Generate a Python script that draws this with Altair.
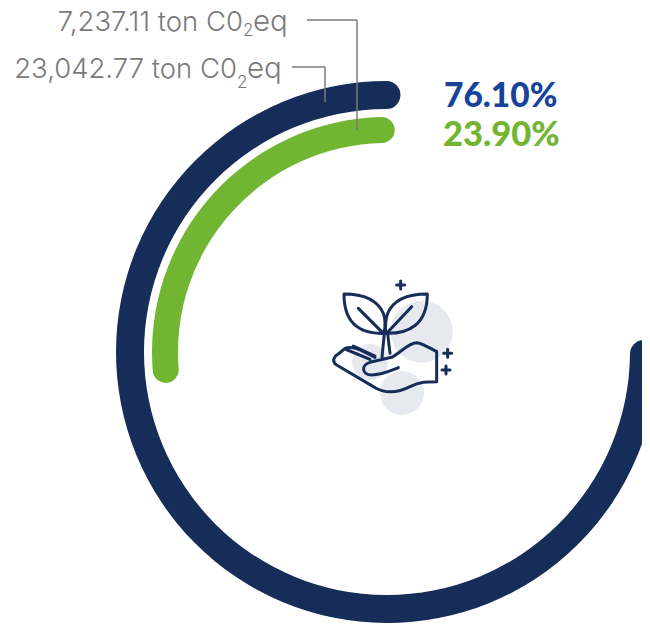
import math
import altair as alt
import pandas as pd

series = ["CO2 A", "CO2 B"]
shares = [76.10, 23.90]
tons = ["23,042.77", "7,237.11"]

NAVY, GREEN = "#162d5a", "#72b533"
BLUE = "#17449a"
GREY = "#7a7a7a"
LIGHT = "#e6e9ed"
OX, OY = 8, 8
W, H = 634, 617
FONT = "Inter"


def px(v):
    return alt.value(v - OX)


def py(v):
    return alt.value(v - OY)


def ring(i, color, inner, outer, start, end):
    df = pd.DataFrame({"s": [series[i]], "v": [shares[i]], "z": [0.0]})
    return alt.Chart(df).mark_arc(
        innerRadius=inner, outerRadius=outer, cornerRadius=(outer - inner) / 2, color=color
    ).encode(
        x=px(387), y=py(352),
        theta=alt.Theta("z:Q", scale=alt.Scale(domain=[0, shares[i]],
                                               range=[math.radians(start), math.radians(end)])),
        theta2=alt.Theta2("v:Q"),
    )


def label(txt, x, y, size, color, align="left", weight=300, font=FONT):
    df = pd.DataFrame({"t": [txt]})
    return alt.Chart(df).mark_text(
        font=font, fontSize=size, fontWeight=weight, color=color, align=align, baseline="alphabetic"
    ).encode(x=px(x), y=py(y), text="t:N")


def rule(x1, y1, x2, y2, color=GREY):
    df = pd.DataFrame({"k": [0]})
    return alt.Chart(df).mark_rule(color=color, strokeWidth=1.5).encode(
        x=px(x1), x2=px(x2), y=py(y1), y2=py(y2))


def circle(cx, cy, r):
    df = pd.DataFrame({"k": [0]})
    return alt.Chart(df).mark_point(filled=True, shape="circle", color=LIGHT, opacity=1,
                                    size=4 * r * r).encode(x=px(cx), y=py(cy))


# icon outline, in a 420x480 drawing grid anchored at page (320, 270), scale 1/3
ICON = [
    "M72 72 C120 72 170 85 190 130 C197 150 195 175 192 190 C130 192 72 170 72 72 Z",
    "M322 72 C270 72 222 85 203 130 C196 150 196 175 197 190 C265 192 322 165 322 72 Z",
    "M115 115 L190 190",
    "M275 110 L200 190",
    "M193 190 L186 262",
    "M203 190 L210 250",
    "M235 293 C205 305 185 315 155 315 C125 315 122 285 150 277 L215 262 C240 250 265 218 290 218 "
    "C310 220 330 235 350 245 L350 335 C320 335 300 335 270 350 C235 368 195 372 160 350 "
    "L50 285 C35 275 40 260 55 252 L75 235 C100 225 130 245 165 262",
    "M75 237 L150 268",
    "M100 228 L165 258",
    "M242 33 L242 57 M230 45 L254 45",
    "M383 238 L383 262 M371 250 L395 250",
    "M378 288 L378 312 M366 300 L390 300",
]
SPAN = 160.0  # page pixels covered by the -1..1 shape box


def norm(path):
    out = path.replace("M", " M ").replace("L", " L ").replace("C", " C ").replace("Z", " Z ").split()
    res, idx = [], 0
    for tok in out:
        if tok.isalpha():
            res.append(tok)
        else:
            val = float(tok)
            if idx % 2 == 0:
                res.append(f"{(val / 3 - 70) / (SPAN / 2):.4f}")
            else:
                res.append(f"{(val / 3 - 80) / (SPAN / 2):.4f}")
            idx += 1
    return " ".join(res)


icon = alt.Chart(pd.DataFrame({"k": [0]})).mark_point(
    shape=norm(" ".join(ICON)), size=SPAN ** 2, filled=False, stroke=NAVY, strokeWidth=3, opacity=1,
    strokeJoin="round", strokeCap="round",
).encode(x=px(320 + 70), y=py(270 + 80))

layers = [
    ring(0, NAVY, 243, 271, 363, 87.3),
    ring(1, GREEN, 209, 235, 362, 262),
    circle(421.7, 331.7, 31),
    circle(370, 362, 18),
    circle(402, 393, 22),
    icon,
    rule(307, 20, 357, 20), rule(357, 20, 357, 130),
    rule(292, 67, 325, 67), rule(325, 67, 325, 102),
    label(f"{tons[1]} ton C0", 243, 31, 27.5, GREY, "right"),
    label("2", 243, 36, 17, GREY),
    label("eq", 253, 31, 29.5, GREY),
    label(f"{tons[0]} ton C0", 237, 78, 27.5, GREY, "right"),
    label("2", 237, 88, 17, GREY),
    label("eq", 247, 78, 29.5, GREY),
    label(f"{shares[0]:.2f}%", 444, 107, 33.5, BLUE, weight=900, font="Lato"),
    label(f"{shares[1]:.2f}%", 443, 146, 34.5, GREEN, weight=900, font="Lato"),
]

chart = alt.layer(*layers).resolve_scale(theta="independent").properties(
    width=W, height=H, padding=0, autosize=alt.AutoSizeParams(type="none"),
    background="white",
).configure_view(strokeWidth=0, stroke=None)

chart.save("out.html", embed_options={"renderer": "svg", "actions": False})
